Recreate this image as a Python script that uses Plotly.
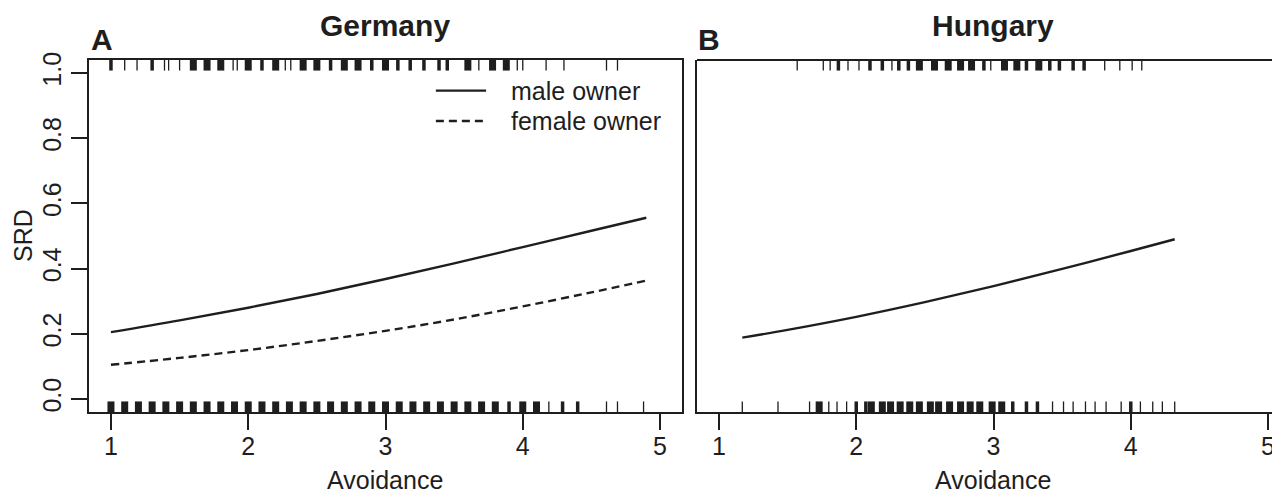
import plotly.graph_objects as go

# ---------------- data ----------------
ger_x = [1.0, 1.5, 2.0, 2.5, 3.0, 3.5, 4.0, 4.5, 4.9]
ger_male = [0.205, 0.241, 0.280, 0.322, 0.368, 0.416, 0.466, 0.516, 0.556]
ger_female = [0.105, 0.126, 0.150, 0.178, 0.209, 0.244, 0.284, 0.327, 0.363]

hun_x = [1.17, 1.5, 2.0, 2.5, 3.0, 3.5, 4.0, 4.32]
hun_male = [0.188, 0.212, 0.252, 0.297, 0.346, 0.399, 0.454, 0.490]

# rug marks (avoidance values of observations), grouped by how many cases pile up
ger_top_dense = [1.6, 1.7, 1.8, 2.0, 2.2, 2.4, 2.5, 2.7, 2.8, 3.0, 3.6, 3.78, 3.88]
ger_top_medium = [1.0, 1.3, 2.1, 2.6, 2.9, 3.09, 3.18, 3.28, 3.39, 3.45]
ger_top_thin = [1.1, 1.19, 1.39, 1.42, 1.5, 1.89, 1.92, 2.27, 2.31, 3.68,
                3.96, 4.0, 4.17, 4.30, 4.61, 4.69]

ger_bot_dense = [1.0, 1.1, 1.2, 1.3, 1.4, 1.5, 1.6, 1.7, 1.8, 1.9, 2.0, 2.1,
                 2.2, 2.3, 2.4, 2.5, 2.6, 2.7, 2.8, 2.9, 3.0, 3.1, 3.2, 3.3,
                 3.4, 3.5, 3.6, 3.7, 3.8, 4.0, 4.1]
ger_bot_medium = [3.9, 4.29, 4.4]
ger_bot_thin = [4.19, 4.61, 4.69, 4.88]

hun_top_dense = [2.46, 2.57, 2.67, 2.76, 2.84, 3.08, 3.17, 3.33]
hun_top_medium = [1.87, 2.10, 2.19, 2.31, 2.38, 2.93, 3.24, 3.41, 3.48, 3.58, 3.66]
hun_top_thin = [1.57, 1.76, 1.81, 1.94, 2.02, 2.26, 2.98, 3.81, 3.92, 4.01, 4.08]

hun_bot_dense = [1.73, 2.11, 2.19, 2.25, 2.32, 2.39, 2.46, 2.54, 2.60, 2.68,
                 2.76, 2.83, 2.90, 2.99, 3.06]
hun_bot_medium = [2.0, 2.07, 3.14, 3.24, 3.32, 4.0]
hun_bot_thin = [1.17, 1.43, 1.66, 1.80, 1.86, 1.93, 3.43, 3.51, 3.58, 3.67,
                3.74, 3.82, 3.93, 4.07, 4.16, 4.23, 4.32]

x_ticks = [1, 2, 3, 4, 5]
y_ticks = [0.0, 0.2, 0.4, 0.6, 0.8, 1.0]
y_tick_labels = ["0.0", "0.2", "0.4", "0.6", "0.8", "1.0"]

# ---------------- styling ----------------
INK = "#1e1e1e"
FONT = "Liberation Sans, Arial, Helvetica, sans-serif"
Y_RANGE = [-0.04, 1.04]
X_RANGE_G = [0.84, 5.16]
X_RANGE_H = [0.84, 5.087]
RUG_LEN = 0.03 * (Y_RANGE[1] - Y_RANGE[0])
RUG_WIDTH = {"dense": 7.0, "medium": 3.5, "thin": 1.3}

# the page body has an 8px margin, so the figure is 8px smaller each way
PAGE_OFF = 8

fig = go.Figure()


def rug(values, side, kind, xa, ya):
    xs, ys = [], []
    if side == "bottom":
        y0, y1 = Y_RANGE[0], Y_RANGE[0] + RUG_LEN
    else:
        y0, y1 = Y_RANGE[1], Y_RANGE[1] - RUG_LEN
    for v in values:
        xs += [v, v, None]
        ys += [y0, y1, None]
    fig.add_trace(go.Scatter(x=xs, y=ys, mode="lines", xaxis=xa, yaxis=ya,
                             line=dict(color=INK, width=RUG_WIDTH[kind]),
                             showlegend=False, hoverinfo="skip"))


for vals, side, kind in [(ger_top_dense, "top", "dense"), (ger_top_medium, "top", "medium"),
                         (ger_top_thin, "top", "thin"), (ger_bot_dense, "bottom", "dense"),
                         (ger_bot_medium, "bottom", "medium"), (ger_bot_thin, "bottom", "thin")]:
    rug(vals, side, kind, "x", "y")
for vals, side, kind in [(hun_top_dense, "top", "dense"), (hun_top_medium, "top", "medium"),
                         (hun_top_thin, "top", "thin"), (hun_bot_dense, "bottom", "dense"),
                         (hun_bot_medium, "bottom", "medium"), (hun_bot_thin, "bottom", "thin")]:
    rug(vals, side, kind, "x2", "y2")

fig.add_trace(go.Scatter(x=ger_x, y=ger_male, mode="lines", name="male owner",
                         line=dict(color=INK, width=2.4, shape="spline"),
                         xaxis="x", yaxis="y", showlegend=False))
fig.add_trace(go.Scatter(x=ger_x, y=ger_female, mode="lines", name="female owner",
                         line=dict(color=INK, width=2.4, dash="8px,5px", shape="spline"),
                         xaxis="x", yaxis="y", showlegend=False))
fig.add_trace(go.Scatter(x=hun_x, y=hun_male, mode="lines", name="male owner",
                         line=dict(color=INK, width=2.4, shape="spline"),
                         xaxis="x2", yaxis="y2", showlegend=False))

axis_common = dict(showgrid=False, zeroline=False, color=INK, automargin=False,
                   tickfont=dict(family=FONT, size=25, color=INK),
                   ticks="outside", ticklen=16, tickwidth=2, tickcolor=INK,
                   linecolor=INK, linewidth=2)

dom_g = [0.0, (682 - 89) / 1191]
dom_h = [(697 - 89) / 1191, 1.0]

fig.update_layout(
    width=1280 - PAGE_OFF, height=494 - PAGE_OFF, autosize=False,
    margin=dict(l=89 - PAGE_OFF, r=0, t=60 - PAGE_OFF, b=82, pad=0),
    paper_bgcolor="white", plot_bgcolor="white",
    font=dict(family=FONT, color=INK),
    xaxis=dict(domain=dom_g, range=X_RANGE_G, tickvals=x_ticks, showline=True,
               mirror=True, anchor="y", ticklabelstandoff=-5, **axis_common),
    yaxis=dict(domain=[0, 1], range=Y_RANGE, tickvals=y_ticks, ticktext=y_tick_labels,
               tickangle=-90, showline=True, mirror=True, anchor="x", **axis_common),
    xaxis2=dict(domain=dom_h, range=X_RANGE_H, tickvals=x_ticks, showline=True,
                mirror=False, anchor="y2", ticklabelstandoff=-5, **axis_common),
    yaxis2=dict(domain=[0, 1], range=Y_RANGE, showticklabels=False, ticks="",
                showline=True, mirror=False, anchor="x2", showgrid=False,
                automargin=False, zeroline=False, linecolor=INK, linewidth=2),
)

# top border of the (cropped) Hungary panel
fig.add_shape(type="line", xref="x2 domain", yref="y2 domain", x0=0, x1=1, y0=1, y1=1,
              line=dict(color=INK, width=2))

# manual legend in the Germany panel
fig.add_shape(type="line", xref="x", yref="y", x0=3.367, x1=3.733, y0=0.946, y1=0.946,
              line=dict(color=INK, width=2.4))
fig.add_shape(type="line", xref="x", yref="y", x0=3.367, x1=3.733, y0=0.853, y1=0.853,
              line=dict(color=INK, width=2.4, dash="8px,5px"))
annos = [
    dict(text="male owner", x=3.90, y=0.946, xref="x", yref="y", xanchor="left",
         yanchor="middle", font=dict(size=25)),
    dict(text="female owner", x=3.90, y=0.853, xref="x", yref="y", xanchor="left",
         yanchor="middle", font=dict(size=25)),
    dict(text="<b>Germany</b>", x=(385 - 89) / 1191, y=(412 - 26) / 352, xref="paper",
         yref="paper", xanchor="center", yanchor="middle", font=dict(size=30)),
    dict(text="<b>Hungary</b>", x=(993 - 89) / 1191, y=(412 - 26) / 352, xref="paper",
         yref="paper", xanchor="center", yanchor="middle", font=dict(size=30)),
    dict(text="<b>A</b>", x=(89 - 89) / 1191, y=(412 - 40) / 352, xref="paper",
         yref="paper", xanchor="left", yanchor="middle", font=dict(size=30)),
    dict(text="<b>B</b>", x=(696 - 89) / 1191, y=(412 - 40) / 352, xref="paper",
         yref="paper", xanchor="left", yanchor="middle", font=dict(size=30)),
    dict(text="Avoidance", x=(385 - 89) / 1191, y=(412 - 480) / 352, xref="paper",
         yref="paper", xanchor="center", yanchor="middle", font=dict(size=25)),
    dict(text="Avoidance", x=(993 - 89) / 1191, y=(412 - 480) / 352, xref="paper",
         yref="paper", xanchor="center", yanchor="middle", font=dict(size=25)),
    dict(text="SRD", x=(23 - 89) / 1191, y=(412 - 236) / 352, xref="paper",
         yref="paper", xanchor="center", yanchor="middle", textangle=-90,
         font=dict(size=25)),
]
for a in annos:
    a.setdefault("showarrow", False)
    a["font"] = dict(family=FONT, color=INK, **a["font"])
fig.update_layout(annotations=annos)

fig.write_html("out.html")
